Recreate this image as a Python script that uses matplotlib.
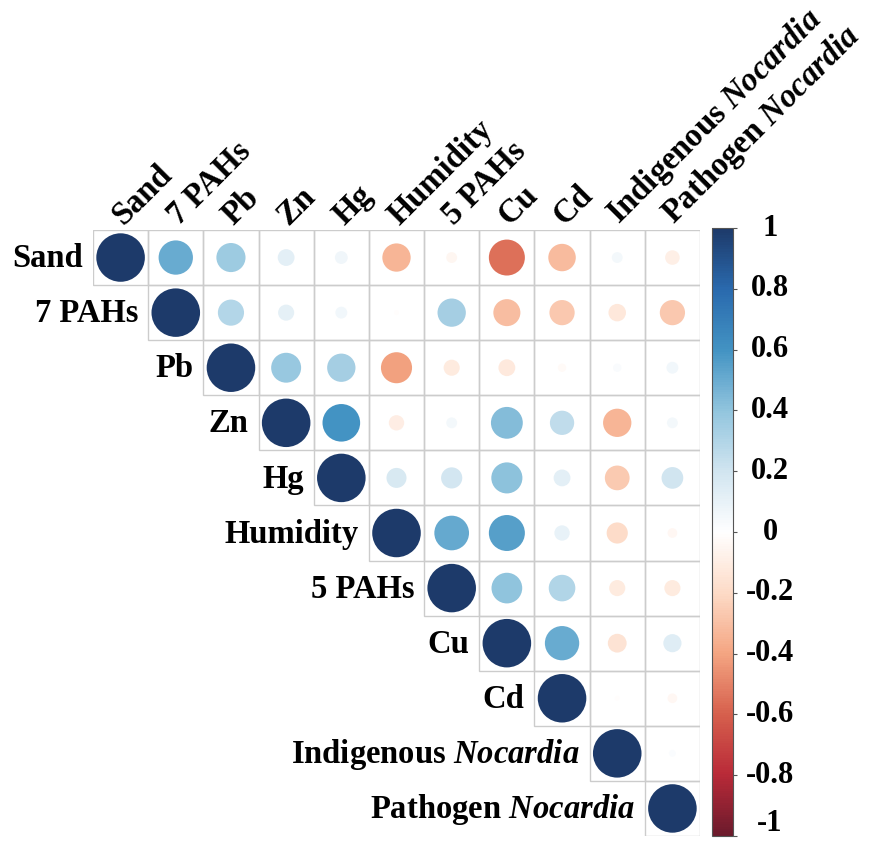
import numpy as np
import matplotlib
matplotlib.use("Agg")
import matplotlib.pyplot as plt
from matplotlib.patches import Circle, Rectangle
from matplotlib.colors import Normalize, LinearSegmentedColormap
from matplotlib.transforms import blended_transform_factory

plt.rcParams['font.family'] = ['Liberation Serif', 'DejaVu Serif']
plt.rcParams['font.weight'] = 'bold'
plt.rcParams['mathtext.fontset'] = 'custom'
plt.rcParams['mathtext.it'] = 'Liberation Serif:italic:bold'
plt.rcParams['mathtext.rm'] = 'Liberation Serif:bold'

variables = ["Sand", "7 PAHs", "Pb", "Zn", "Hg", "Humidity", "5 PAHs", "Cu", "Cd",
             "Indigenous $\\mathit{Nocardia}$", "Pathogen $\\mathit{Nocardia}$"]

# upper triangle, each row starts right after the diagonal
sand_row = [0.50, 0.36, 0.12, 0.07, -0.34, -0.05, -0.55, -0.32, 0.05, -0.09]
pahs7_row = [0.29, 0.11, 0.06, -0.01, 0.34, -0.31, -0.27, -0.13, -0.27]
pb_row = [0.38, 0.34, -0.41, -0.11, -0.12, -0.03, 0.03, 0.06]
zn_row = [0.60, -0.10, 0.05, 0.43, 0.25, -0.34, 0.05]
hg_row = [0.17, 0.19, 0.41, 0.12, -0.26, 0.20]
humidity_row = [0.51, 0.55, 0.10, -0.19, -0.04]
pahs5_row = [0.40, 0.30, -0.11, -0.11]
cu_row = [0.50, -0.15, 0.14]
cd_row = [-0.01, -0.04]
indig_row = [0.02]
upper_rows = [sand_row, pahs7_row, pb_row, zn_row, hg_row, humidity_row,
              pahs5_row, cu_row, cd_row, indig_row, []]

cbar_ticks = [1, 0.8, 0.6, 0.4, 0.2, 0, -0.2, -0.4, -0.6, -0.8, -1]
cbar_labels = ["1", "0.8", "0.6", "0.4", "0.2", "0", "-0.2", "-0.4", "-0.6", "-0.8", "-1"]

n = len(variables)
corr = np.full((n, n), np.nan)
for i in range(n):
    corr[i, i] = 1.0
    for k, v in enumerate(upper_rows[i]):
        corr[i, i + 1 + k] = v

# RdBu, a little softer at both ends like the original
cmap = LinearSegmentedColormap.from_list("soft_rdbu", [
    "#6b1a2c", "#b92a38", "#d6604d", "#f4a582", "#fddbc7", "#ffffff",
    "#d1e5f0", "#92c5de", "#4393c3", "#2a6aae", "#1d3a6a"])
norm = Normalize(vmin=-1, vmax=1)

fig = plt.figure(figsize=(8.72, 8.43), dpi=100)
ax = fig.add_axes([93 / 872, 7 / 843, 607 / 872, 606 / 843])
ax.set_xlim(0, n)
ax.set_ylim(n, 0)
ax.axis("off")

for i in range(n):
    for j in range(i, n):
        ax.add_patch(Rectangle((j, i), 1, 1, fill=False, edgecolor="#cccccc", lw=1.0))
        r = corr[i, j]
        rad = 0.44 * np.sqrt(abs(r))
        ax.add_patch(Circle((j + 0.5, i + 0.5), rad, facecolor=cmap(norm(r)),
                            edgecolor="none"))

# row labels left of the diagonal
for i, name in enumerate(variables):
    ax.text(i - 0.18, i + 0.52, name, ha="right", va="center", fontsize=23.5,
            fontweight="bold", clip_on=False)

# column labels on top, rotated
for j, name in enumerate(variables):
    ax.text(j + 0.64, 0.02, name, ha="left", va="bottom", rotation=45,
            rotation_mode="anchor", fontsize=23.5, fontweight="bold", clip_on=False)

cax = fig.add_axes([712 / 872, 7 / 843, 21 / 872, 608 / 843])
sm = plt.cm.ScalarMappable(norm=norm, cmap=cmap)
cb = fig.colorbar(sm, cax=cax, ticks=cbar_ticks)
cb.ax.set_yticklabels([])
cb.ax.tick_params(length=3, width=0.8, color="#555555")
cb.outline.set_edgecolor("#555555")
cb.outline.set_linewidth(0.8)

trans = blended_transform_factory(cax.transAxes, cax.transData)
for t, lab in zip(cbar_ticks, cbar_labels):
    yy = t
    if t == -1:
        yy = -0.96
    cax.text(2.76, yy, lab, transform=trans, ha="center", va="center",
             fontsize=22, fontweight="bold")

fig.savefig("out.png", dpi=100)
